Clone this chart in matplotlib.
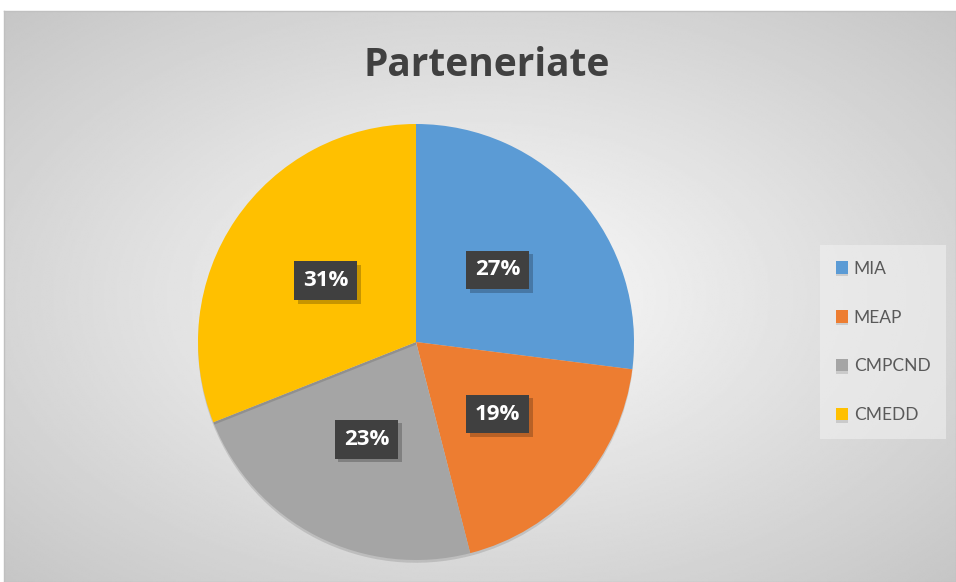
import matplotlib
matplotlib.use("Agg")
import matplotlib.pyplot as plt
import matplotlib.patheffects as pe
import numpy as np

# data
labels = ["MIA", "MEAP", "CMPCND", "CMEDD"]
shares = [27, 19, 23, 31]
colors = ["#5B9BD5", "#ED7D31", "#A5A5A5", "#FFC000"]
title = "Parteneriate"

W, H = 956, 582
fig = plt.figure(figsize=(W / 100, H / 100), dpi=100)
fig.patch.set_facecolor("white")

# chart area with radial gradient background
bg = fig.add_axes([4 / W, 0, (W - 4) / W, (H - 11) / H])
yy, xx = np.mgrid[-1:1:300j, -1:1:500j]
dist = np.sqrt(xx ** 2 + yy ** 2) / np.sqrt(2)
shade = 0.985 - 0.21 * dist
bg.imshow(shade, cmap="gray", vmin=0, vmax=1, aspect="auto",
          extent=[0, 1, 0, 1], interpolation="bilinear")
bg.set_xticks([])
bg.set_yticks([])
for s in bg.spines.values():
    s.set_color("#c0c0c0")
    s.set_linewidth(1)

# pie
r = 218
cx, cy = 416, H - 342
ax = fig.add_axes([(cx - r) / W, (cy - r) / H, 2 * r / W, 2 * r / H])
ax.set_facecolor("none")
wedges, texts, autotexts = ax.pie(
    shares, colors=colors, startangle=90, counterclock=False,
    autopct="%d%%", pctdistance=0.5, radius=1,
    wedgeprops=dict(linewidth=0),
    textprops=dict(color="white", fontsize=16, fontweight="bold", family="Open Sans"),
)
for w in wedges:
    w.set_path_effects([pe.SimplePatchShadow(offset=(0, -2), alpha=0.12, shadow_rgbFace="black"),
                        pe.Normal()])
for t in autotexts:
    t.set_bbox(dict(boxstyle="square,pad=0.4", facecolor="#404040", edgecolor="none"))
    t.get_bbox_patch().set_path_effects([
        pe.SimplePatchShadow(offset=(2.5, -2.5), alpha=0.22, shadow_rgbFace="black"),
        pe.Normal()])
ax.set_xlim(-1, 1)
ax.set_ylim(-1, 1)
ax.set_aspect("equal")
ax.axis("off")

fig.text(487 / W, 1 - 65 / H, title, ha="center", va="center",
         fontsize=28, fontweight="bold", color="#404040", family="Open Sans")

leg = fig.legend(wedges, labels, loc="center left", bbox_to_anchor=(820 / W, 1 - 342 / H),
                 frameon=True, fancybox=False, handlelength=0.7, handleheight=0.7,
                 handletextpad=0.35, labelspacing=1.9, borderpad=0.9, borderaxespad=0,
                 prop=dict(family="Lato", size=12.5))
leg.get_frame().set_facecolor("#f0f0f0")
leg.get_frame().set_alpha(0.6)
leg.get_frame().set_edgecolor("none")
for t in leg.get_texts():
    t.set_color("#595959")

fig.savefig("out.png", dpi=100)
